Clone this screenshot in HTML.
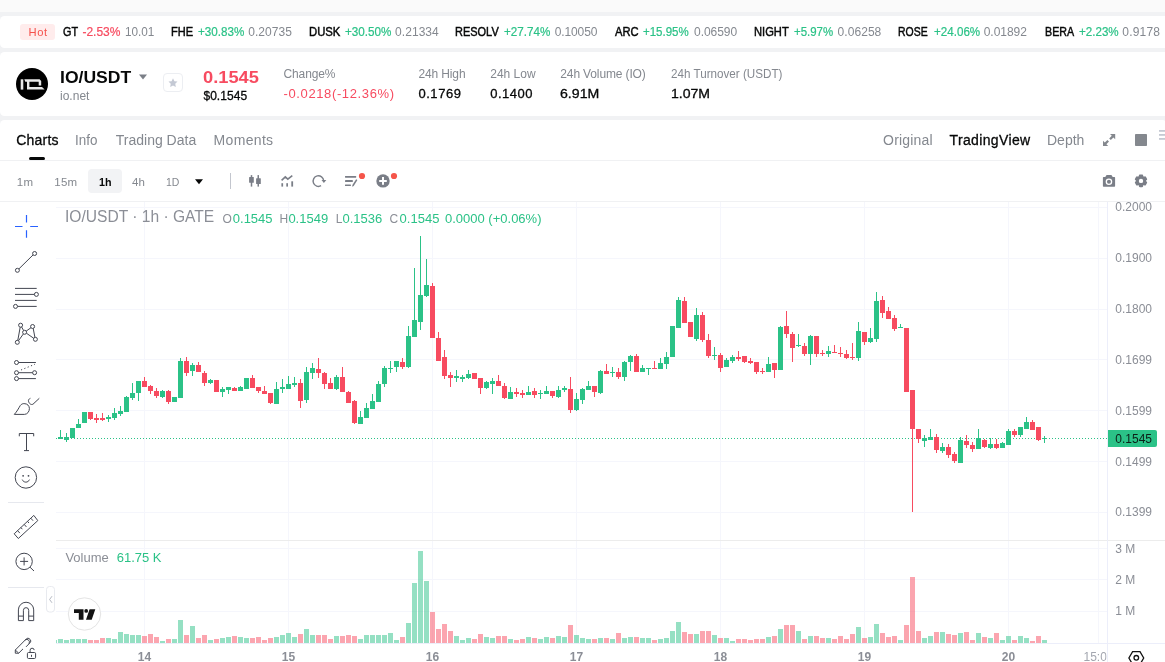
<!DOCTYPE html>
<html lang="en">
<head>
<meta charset="utf-8">
<title>IO/USDT</title>
<style>
*{box-sizing:border-box;margin:0;padding:0}
html,body{width:1165px;height:662px;overflow:hidden;background:#f1f2f4;font-family:"Liberation Sans",Arial,sans-serif}
#page{position:relative;width:1165px;height:662px;overflow:hidden}
.topstrip{position:absolute;left:0;top:0;width:1165px;height:12px;background:#fafafa}
.card{position:absolute;left:0;background:#fff;border-radius:4.500px 0 0 4.500px;width:1175px}
#ticker{top:16px;height:32px}
#header{top:52px;height:64px}
#chartcard{top:120px;height:560px;width:1167px;border-radius:4.500px 4.500px 0 0}
.t{position:absolute;white-space:nowrap;line-height:1;display:block}
.hot{position:absolute;left:20px;top:24px;width:35px;height:16px;border-radius:3px;background:#ffecec}
.hr{position:absolute;left:0;width:1165px;height:1px;background:#f0f1f3}
.ivl{position:absolute;left:88px;top:169px;width:34px;height:24px;border-radius:4px;background:#f2f3f5}
.uline{position:absolute;left:29px;top:157px;width:16px;height:3px;border-radius:1.5px;background:#070808}
.star{position:absolute;left:163px;top:72.500px;width:20px;height:19.500px;border:1px solid #eceef2;border-radius:4px;background:#fff}
.plabel{position:absolute;left:1108px;top:430px;width:49px;height:17px;background:#2bc287;border-radius:0 2px 2px 0}
.ov{position:absolute;left:0;top:0}
</style>
</head>
<body>
<div id="page">
<div class="topstrip"></div>
<div class="card" id="ticker"></div>
<div class="card" id="header"></div>
<div class="card" id="chartcard"></div>
<div class="hot"></div>
<div class="hr" style="top:160px"></div>
<div class="hr" style="top:201px"></div>
<div class="ivl"></div>
<div class="uline"></div>
<div class="star"></div>
<svg class="ov" width="1165" height="662" viewBox="0 0 1165 662" shape-rendering="crispEdges">
<rect x="56" y="207" width="1051" height="1" fill="#f5f6fc"/>
<rect x="56" y="258" width="1051" height="1" fill="#f5f6fc"/>
<rect x="56" y="309" width="1051" height="1" fill="#f5f6fc"/>
<rect x="56" y="359" width="1051" height="1" fill="#f5f6fc"/>
<rect x="56" y="410" width="1051" height="1" fill="#f5f6fc"/>
<rect x="56" y="461" width="1051" height="1" fill="#f5f6fc"/>
<rect x="56" y="512" width="1051" height="1" fill="#f5f6fc"/>
<rect x="56" y="548" width="1051" height="1" fill="#f5f6fc"/>
<rect x="56" y="579" width="1051" height="1" fill="#f5f6fc"/>
<rect x="56" y="611" width="1051" height="1" fill="#f5f6fc"/>
<rect x="144" y="202" width="1" height="441" fill="#f5f6fc"/>
<rect x="288" y="202" width="1" height="441" fill="#f5f6fc"/>
<rect x="432" y="202" width="1" height="441" fill="#f5f6fc"/>
<rect x="576" y="202" width="1" height="441" fill="#f5f6fc"/>
<rect x="720" y="202" width="1" height="441" fill="#f5f6fc"/>
<rect x="864" y="202" width="1" height="441" fill="#f5f6fc"/>
<rect x="1008" y="202" width="1" height="441" fill="#f5f6fc"/>
<rect x="1098" y="202" width="1" height="441" fill="#f5f6fc"/>
<rect x="56" y="540" width="1109" height="1" fill="#ececec"/>
<rect x="56" y="643" width="1109" height="1" fill="#eceefa"/>
<rect x="1107" y="202" width="1" height="460" fill="#eceefa"/>
<path d="M56 438.5H1107" stroke="#2bc287" stroke-width="1" stroke-dasharray="1 2"/>
<rect x="56" y="640" width="1" height="3" fill="#95e0c3"/>
<rect x="58" y="639" width="5" height="4" fill="#2bc287" fill-opacity="0.5"/>
<rect x="64" y="640" width="5" height="3" fill="#2bc287" fill-opacity="0.5"/>
<rect x="70" y="639" width="5" height="4" fill="#2bc287" fill-opacity="0.5"/>
<rect x="76" y="639" width="5" height="4" fill="#2bc287" fill-opacity="0.5"/>
<rect x="82" y="639" width="5" height="4" fill="#2bc287" fill-opacity="0.5"/>
<rect x="88" y="640" width="5" height="3" fill="#f74b60" fill-opacity="0.5"/>
<rect x="94" y="640" width="5" height="3" fill="#f74b60" fill-opacity="0.5"/>
<rect x="100" y="638" width="5" height="5" fill="#f74b60" fill-opacity="0.5"/>
<rect x="106" y="638" width="5" height="5" fill="#2bc287" fill-opacity="0.5"/>
<rect x="112" y="639" width="5" height="4" fill="#2bc287" fill-opacity="0.5"/>
<rect x="118" y="632" width="5" height="11" fill="#2bc287" fill-opacity="0.5"/>
<rect x="124" y="634" width="5" height="9" fill="#2bc287" fill-opacity="0.5"/>
<rect x="130" y="635" width="5" height="8" fill="#2bc287" fill-opacity="0.5"/>
<rect x="136" y="635" width="5" height="8" fill="#2bc287" fill-opacity="0.5"/>
<rect x="142" y="636" width="5" height="7" fill="#f74b60" fill-opacity="0.5"/>
<rect x="148" y="634" width="5" height="9" fill="#f74b60" fill-opacity="0.5"/>
<rect x="154" y="637" width="5" height="6" fill="#f74b60" fill-opacity="0.5"/>
<rect x="160" y="641" width="5" height="2" fill="#2bc287" fill-opacity="0.5"/>
<rect x="166" y="639" width="5" height="4" fill="#f74b60" fill-opacity="0.5"/>
<rect x="172" y="639" width="5" height="4" fill="#2bc287" fill-opacity="0.5"/>
<rect x="178" y="620" width="5" height="23" fill="#2bc287" fill-opacity="0.5"/>
<rect x="184" y="635" width="5" height="8" fill="#f74b60" fill-opacity="0.5"/>
<rect x="190" y="626" width="5" height="17" fill="#2bc287" fill-opacity="0.5"/>
<rect x="196" y="638" width="5" height="5" fill="#f74b60" fill-opacity="0.5"/>
<rect x="202" y="635" width="5" height="8" fill="#f74b60" fill-opacity="0.5"/>
<rect x="208" y="640" width="5" height="3" fill="#2bc287" fill-opacity="0.5"/>
<rect x="214" y="639" width="5" height="4" fill="#f74b60" fill-opacity="0.5"/>
<rect x="220" y="638" width="5" height="5" fill="#2bc287" fill-opacity="0.5"/>
<rect x="226" y="637" width="5" height="6" fill="#2bc287" fill-opacity="0.5"/>
<rect x="232" y="636" width="5" height="7" fill="#f74b60" fill-opacity="0.5"/>
<rect x="238" y="637" width="5" height="6" fill="#2bc287" fill-opacity="0.5"/>
<rect x="244" y="638" width="5" height="5" fill="#2bc287" fill-opacity="0.5"/>
<rect x="250" y="638" width="5" height="5" fill="#f74b60" fill-opacity="0.5"/>
<rect x="256" y="637" width="5" height="6" fill="#f74b60" fill-opacity="0.5"/>
<rect x="262" y="640" width="5" height="3" fill="#f74b60" fill-opacity="0.5"/>
<rect x="268" y="638" width="5" height="5" fill="#f74b60" fill-opacity="0.5"/>
<rect x="274" y="637" width="5" height="6" fill="#2bc287" fill-opacity="0.5"/>
<rect x="280" y="635" width="5" height="8" fill="#2bc287" fill-opacity="0.5"/>
<rect x="286" y="633" width="5" height="10" fill="#2bc287" fill-opacity="0.5"/>
<rect x="292" y="637" width="5" height="6" fill="#2bc287" fill-opacity="0.5"/>
<rect x="298" y="634" width="5" height="9" fill="#f74b60" fill-opacity="0.5"/>
<rect x="304" y="629" width="5" height="14" fill="#2bc287" fill-opacity="0.5"/>
<rect x="310" y="635" width="5" height="8" fill="#2bc287" fill-opacity="0.5"/>
<rect x="316" y="635" width="5" height="8" fill="#f74b60" fill-opacity="0.5"/>
<rect x="322" y="635" width="5" height="8" fill="#f74b60" fill-opacity="0.5"/>
<rect x="328" y="639" width="5" height="4" fill="#f74b60" fill-opacity="0.5"/>
<rect x="334" y="636" width="5" height="7" fill="#2bc287" fill-opacity="0.5"/>
<rect x="340" y="636" width="5" height="7" fill="#f74b60" fill-opacity="0.5"/>
<rect x="346" y="635" width="5" height="8" fill="#f74b60" fill-opacity="0.5"/>
<rect x="352" y="636" width="5" height="7" fill="#f74b60" fill-opacity="0.5"/>
<rect x="358" y="639" width="5" height="4" fill="#2bc287" fill-opacity="0.5"/>
<rect x="364" y="635" width="5" height="8" fill="#2bc287" fill-opacity="0.5"/>
<rect x="370" y="635" width="5" height="8" fill="#2bc287" fill-opacity="0.5"/>
<rect x="376" y="635" width="5" height="8" fill="#2bc287" fill-opacity="0.5"/>
<rect x="382" y="635" width="5" height="8" fill="#2bc287" fill-opacity="0.5"/>
<rect x="388" y="633" width="5" height="10" fill="#2bc287" fill-opacity="0.5"/>
<rect x="394" y="640" width="5" height="3" fill="#2bc287" fill-opacity="0.5"/>
<rect x="400" y="637" width="5" height="6" fill="#f74b60" fill-opacity="0.5"/>
<rect x="406" y="623" width="5" height="20" fill="#2bc287" fill-opacity="0.5"/>
<rect x="412" y="583" width="5" height="60" fill="#2bc287" fill-opacity="0.5"/>
<rect x="418" y="551" width="5" height="92" fill="#2bc287" fill-opacity="0.5"/>
<rect x="424" y="581" width="5" height="62" fill="#2bc287" fill-opacity="0.5"/>
<rect x="430" y="612" width="5" height="31" fill="#f74b60" fill-opacity="0.5"/>
<rect x="436" y="629" width="5" height="14" fill="#f74b60" fill-opacity="0.5"/>
<rect x="442" y="624" width="5" height="19" fill="#f74b60" fill-opacity="0.5"/>
<rect x="448" y="631" width="5" height="12" fill="#f74b60" fill-opacity="0.5"/>
<rect x="454" y="636" width="5" height="7" fill="#2bc287" fill-opacity="0.5"/>
<rect x="460" y="640" width="5" height="3" fill="#2bc287" fill-opacity="0.5"/>
<rect x="466" y="638" width="5" height="5" fill="#2bc287" fill-opacity="0.5"/>
<rect x="472" y="639" width="5" height="4" fill="#f74b60" fill-opacity="0.5"/>
<rect x="478" y="634" width="5" height="9" fill="#f74b60" fill-opacity="0.5"/>
<rect x="484" y="637" width="5" height="6" fill="#2bc287" fill-opacity="0.5"/>
<rect x="490" y="638" width="5" height="5" fill="#2bc287" fill-opacity="0.5"/>
<rect x="496" y="636" width="5" height="7" fill="#f74b60" fill-opacity="0.5"/>
<rect x="502" y="636" width="5" height="7" fill="#f74b60" fill-opacity="0.5"/>
<rect x="508" y="639" width="5" height="4" fill="#2bc287" fill-opacity="0.5"/>
<rect x="514" y="640" width="5" height="3" fill="#f74b60" fill-opacity="0.5"/>
<rect x="520" y="639" width="5" height="4" fill="#f74b60" fill-opacity="0.5"/>
<rect x="526" y="637" width="5" height="6" fill="#2bc287" fill-opacity="0.5"/>
<rect x="532" y="638" width="5" height="5" fill="#f74b60" fill-opacity="0.5"/>
<rect x="538" y="639" width="5" height="4" fill="#2bc287" fill-opacity="0.5"/>
<rect x="544" y="637" width="5" height="6" fill="#2bc287" fill-opacity="0.5"/>
<rect x="550" y="638" width="5" height="5" fill="#f74b60" fill-opacity="0.5"/>
<rect x="556" y="636" width="5" height="7" fill="#2bc287" fill-opacity="0.5"/>
<rect x="562" y="637" width="5" height="6" fill="#2bc287" fill-opacity="0.5"/>
<rect x="568" y="625" width="5" height="18" fill="#f74b60" fill-opacity="0.5"/>
<rect x="574" y="635" width="5" height="8" fill="#2bc287" fill-opacity="0.5"/>
<rect x="580" y="638" width="5" height="5" fill="#2bc287" fill-opacity="0.5"/>
<rect x="586" y="639" width="5" height="4" fill="#2bc287" fill-opacity="0.5"/>
<rect x="592" y="639" width="5" height="4" fill="#f74b60" fill-opacity="0.5"/>
<rect x="598" y="638" width="5" height="5" fill="#2bc287" fill-opacity="0.5"/>
<rect x="604" y="638" width="5" height="5" fill="#f74b60" fill-opacity="0.5"/>
<rect x="610" y="639" width="5" height="4" fill="#2bc287" fill-opacity="0.5"/>
<rect x="616" y="633" width="5" height="10" fill="#f74b60" fill-opacity="0.5"/>
<rect x="622" y="638" width="5" height="5" fill="#2bc287" fill-opacity="0.5"/>
<rect x="628" y="637" width="5" height="6" fill="#2bc287" fill-opacity="0.5"/>
<rect x="634" y="637" width="5" height="6" fill="#f74b60" fill-opacity="0.5"/>
<rect x="640" y="638" width="5" height="5" fill="#2bc287" fill-opacity="0.5"/>
<rect x="646" y="638" width="5" height="5" fill="#2bc287" fill-opacity="0.5"/>
<rect x="652" y="640" width="5" height="3" fill="#f74b60" fill-opacity="0.5"/>
<rect x="658" y="639" width="5" height="4" fill="#2bc287" fill-opacity="0.5"/>
<rect x="664" y="638" width="5" height="5" fill="#2bc287" fill-opacity="0.5"/>
<rect x="670" y="631" width="5" height="12" fill="#2bc287" fill-opacity="0.5"/>
<rect x="676" y="622" width="5" height="21" fill="#2bc287" fill-opacity="0.5"/>
<rect x="682" y="632" width="5" height="11" fill="#f74b60" fill-opacity="0.5"/>
<rect x="688" y="634" width="5" height="9" fill="#f74b60" fill-opacity="0.5"/>
<rect x="694" y="634" width="5" height="9" fill="#2bc287" fill-opacity="0.5"/>
<rect x="700" y="631" width="5" height="12" fill="#f74b60" fill-opacity="0.5"/>
<rect x="706" y="631" width="5" height="12" fill="#f74b60" fill-opacity="0.5"/>
<rect x="712" y="635" width="5" height="8" fill="#2bc287" fill-opacity="0.5"/>
<rect x="718" y="638" width="5" height="5" fill="#f74b60" fill-opacity="0.5"/>
<rect x="724" y="638" width="5" height="5" fill="#2bc287" fill-opacity="0.5"/>
<rect x="730" y="641" width="5" height="2" fill="#2bc287" fill-opacity="0.5"/>
<rect x="736" y="639" width="5" height="4" fill="#f74b60" fill-opacity="0.5"/>
<rect x="742" y="639" width="5" height="4" fill="#f74b60" fill-opacity="0.5"/>
<rect x="748" y="640" width="5" height="3" fill="#f74b60" fill-opacity="0.5"/>
<rect x="754" y="639" width="5" height="4" fill="#f74b60" fill-opacity="0.5"/>
<rect x="760" y="639" width="5" height="4" fill="#f74b60" fill-opacity="0.5"/>
<rect x="766" y="637" width="5" height="6" fill="#2bc287" fill-opacity="0.5"/>
<rect x="772" y="636" width="5" height="7" fill="#f74b60" fill-opacity="0.5"/>
<rect x="778" y="629" width="5" height="14" fill="#2bc287" fill-opacity="0.5"/>
<rect x="784" y="625" width="5" height="18" fill="#f74b60" fill-opacity="0.5"/>
<rect x="790" y="625" width="5" height="18" fill="#f74b60" fill-opacity="0.5"/>
<rect x="796" y="631" width="5" height="12" fill="#2bc287" fill-opacity="0.5"/>
<rect x="802" y="639" width="5" height="4" fill="#f74b60" fill-opacity="0.5"/>
<rect x="808" y="636" width="5" height="7" fill="#2bc287" fill-opacity="0.5"/>
<rect x="814" y="636" width="5" height="7" fill="#f74b60" fill-opacity="0.5"/>
<rect x="820" y="638" width="5" height="5" fill="#f74b60" fill-opacity="0.5"/>
<rect x="826" y="638" width="5" height="5" fill="#2bc287" fill-opacity="0.5"/>
<rect x="832" y="639" width="5" height="4" fill="#f74b60" fill-opacity="0.5"/>
<rect x="838" y="636" width="5" height="7" fill="#f74b60" fill-opacity="0.5"/>
<rect x="844" y="639" width="5" height="4" fill="#f74b60" fill-opacity="0.5"/>
<rect x="850" y="634" width="5" height="9" fill="#f74b60" fill-opacity="0.5"/>
<rect x="856" y="627" width="5" height="16" fill="#2bc287" fill-opacity="0.5"/>
<rect x="862" y="638" width="5" height="5" fill="#f74b60" fill-opacity="0.5"/>
<rect x="868" y="637" width="5" height="6" fill="#2bc287" fill-opacity="0.5"/>
<rect x="874" y="624" width="5" height="19" fill="#2bc287" fill-opacity="0.5"/>
<rect x="880" y="633" width="5" height="10" fill="#f74b60" fill-opacity="0.5"/>
<rect x="886" y="637" width="5" height="6" fill="#f74b60" fill-opacity="0.5"/>
<rect x="892" y="636" width="5" height="7" fill="#f74b60" fill-opacity="0.5"/>
<rect x="898" y="640" width="5" height="3" fill="#2bc287" fill-opacity="0.5"/>
<rect x="904" y="625" width="5" height="18" fill="#f74b60" fill-opacity="0.5"/>
<rect x="910" y="577" width="5" height="66" fill="#f74b60" fill-opacity="0.5"/>
<rect x="916" y="631" width="5" height="12" fill="#f74b60" fill-opacity="0.5"/>
<rect x="922" y="638" width="5" height="5" fill="#2bc287" fill-opacity="0.5"/>
<rect x="928" y="636" width="5" height="7" fill="#2bc287" fill-opacity="0.5"/>
<rect x="934" y="632" width="5" height="11" fill="#f74b60" fill-opacity="0.5"/>
<rect x="940" y="632" width="5" height="11" fill="#2bc287" fill-opacity="0.5"/>
<rect x="946" y="634" width="5" height="9" fill="#f74b60" fill-opacity="0.5"/>
<rect x="952" y="635" width="5" height="8" fill="#f74b60" fill-opacity="0.5"/>
<rect x="958" y="633" width="5" height="10" fill="#2bc287" fill-opacity="0.5"/>
<rect x="964" y="632" width="5" height="11" fill="#f74b60" fill-opacity="0.5"/>
<rect x="970" y="640" width="5" height="3" fill="#f74b60" fill-opacity="0.5"/>
<rect x="976" y="633" width="5" height="10" fill="#2bc287" fill-opacity="0.5"/>
<rect x="982" y="637" width="5" height="6" fill="#f74b60" fill-opacity="0.5"/>
<rect x="988" y="638" width="5" height="5" fill="#2bc287" fill-opacity="0.5"/>
<rect x="994" y="633" width="5" height="10" fill="#f74b60" fill-opacity="0.5"/>
<rect x="1000" y="640" width="5" height="3" fill="#2bc287" fill-opacity="0.5"/>
<rect x="1006" y="636" width="5" height="7" fill="#2bc287" fill-opacity="0.5"/>
<rect x="1012" y="640" width="5" height="3" fill="#f74b60" fill-opacity="0.5"/>
<rect x="1018" y="636" width="5" height="7" fill="#2bc287" fill-opacity="0.5"/>
<rect x="1024" y="638" width="5" height="5" fill="#2bc287" fill-opacity="0.5"/>
<rect x="1030" y="641" width="5" height="2" fill="#f74b60" fill-opacity="0.5"/>
<rect x="1036" y="636" width="5" height="7" fill="#f74b60" fill-opacity="0.5"/>
<rect x="1042" y="640" width="5" height="3" fill="#2bc287" fill-opacity="0.5"/>
<rect x="60" y="430" width="1" height="9" fill="#2bc287"/>
<rect x="58" y="437" width="5" height="2" fill="#2bc287"/>
<rect x="66" y="433" width="1" height="9" fill="#2bc287"/>
<rect x="64" y="437" width="5" height="3" fill="#2bc287"/>
<rect x="72" y="428" width="1" height="10" fill="#2bc287"/>
<rect x="70" y="428" width="5" height="10" fill="#2bc287"/>
<rect x="78" y="419" width="1" height="9" fill="#2bc287"/>
<rect x="76" y="424" width="5" height="4" fill="#2bc287"/>
<rect x="84" y="412" width="1" height="11" fill="#2bc287"/>
<rect x="82" y="412" width="5" height="11" fill="#2bc287"/>
<rect x="90" y="412" width="1" height="8" fill="#f74b60"/>
<rect x="88" y="412" width="5" height="7" fill="#f74b60"/>
<rect x="96" y="414" width="1" height="9" fill="#f74b60"/>
<rect x="94" y="418" width="5" height="2" fill="#f74b60"/>
<rect x="102" y="413" width="1" height="8" fill="#f74b60"/>
<rect x="100" y="418" width="5" height="2" fill="#f74b60"/>
<rect x="108" y="415" width="1" height="7" fill="#2bc287"/>
<rect x="106" y="417" width="5" height="2" fill="#2bc287"/>
<rect x="114" y="408" width="1" height="12" fill="#2bc287"/>
<rect x="112" y="413" width="5" height="5" fill="#2bc287"/>
<rect x="120" y="406" width="1" height="10" fill="#2bc287"/>
<rect x="118" y="411" width="5" height="3" fill="#2bc287"/>
<rect x="126" y="396" width="1" height="16" fill="#2bc287"/>
<rect x="124" y="397" width="5" height="15" fill="#2bc287"/>
<rect x="132" y="383" width="1" height="17" fill="#2bc287"/>
<rect x="130" y="393" width="5" height="5" fill="#2bc287"/>
<rect x="138" y="381" width="1" height="20" fill="#2bc287"/>
<rect x="136" y="381" width="5" height="12" fill="#2bc287"/>
<rect x="144" y="377" width="1" height="10" fill="#f74b60"/>
<rect x="142" y="381" width="5" height="6" fill="#f74b60"/>
<rect x="150" y="385" width="1" height="9" fill="#f74b60"/>
<rect x="148" y="386" width="5" height="5" fill="#f74b60"/>
<rect x="156" y="388" width="1" height="10" fill="#f74b60"/>
<rect x="154" y="391" width="5" height="5" fill="#f74b60"/>
<rect x="162" y="390" width="1" height="8" fill="#2bc287"/>
<rect x="160" y="391" width="5" height="6" fill="#2bc287"/>
<rect x="168" y="390" width="1" height="14" fill="#f74b60"/>
<rect x="166" y="391" width="5" height="11" fill="#f74b60"/>
<rect x="174" y="397" width="1" height="5" fill="#2bc287"/>
<rect x="172" y="397" width="5" height="5" fill="#2bc287"/>
<rect x="180" y="358" width="1" height="40" fill="#2bc287"/>
<rect x="178" y="361" width="5" height="37" fill="#2bc287"/>
<rect x="186" y="357" width="1" height="19" fill="#f74b60"/>
<rect x="184" y="361" width="5" height="12" fill="#f74b60"/>
<rect x="192" y="363" width="1" height="13" fill="#2bc287"/>
<rect x="190" y="365" width="5" height="6" fill="#2bc287"/>
<rect x="198" y="362" width="1" height="10" fill="#f74b60"/>
<rect x="196" y="365" width="5" height="7" fill="#f74b60"/>
<rect x="204" y="371" width="1" height="15" fill="#f74b60"/>
<rect x="202" y="373" width="5" height="10" fill="#f74b60"/>
<rect x="210" y="379" width="1" height="5" fill="#2bc287"/>
<rect x="208" y="380" width="5" height="3" fill="#2bc287"/>
<rect x="216" y="380" width="1" height="12" fill="#f74b60"/>
<rect x="214" y="380" width="5" height="12" fill="#f74b60"/>
<rect x="222" y="387" width="1" height="10" fill="#2bc287"/>
<rect x="220" y="389" width="5" height="3" fill="#2bc287"/>
<rect x="228" y="387" width="1" height="7" fill="#2bc287"/>
<rect x="226" y="387" width="5" height="3" fill="#2bc287"/>
<rect x="234" y="387" width="1" height="4" fill="#f74b60"/>
<rect x="232" y="388" width="5" height="3" fill="#f74b60"/>
<rect x="240" y="386" width="1" height="5" fill="#2bc287"/>
<rect x="238" y="387" width="5" height="4" fill="#2bc287"/>
<rect x="246" y="378" width="1" height="11" fill="#2bc287"/>
<rect x="244" y="378" width="5" height="11" fill="#2bc287"/>
<rect x="252" y="375" width="1" height="13" fill="#f74b60"/>
<rect x="250" y="378" width="5" height="10" fill="#f74b60"/>
<rect x="258" y="387" width="1" height="6" fill="#f74b60"/>
<rect x="256" y="387" width="5" height="4" fill="#f74b60"/>
<rect x="264" y="386" width="1" height="8" fill="#f74b60"/>
<rect x="262" y="391" width="5" height="3" fill="#f74b60"/>
<rect x="270" y="393" width="1" height="11" fill="#f74b60"/>
<rect x="268" y="393" width="5" height="10" fill="#f74b60"/>
<rect x="276" y="382" width="1" height="22" fill="#2bc287"/>
<rect x="274" y="389" width="5" height="15" fill="#2bc287"/>
<rect x="282" y="379" width="1" height="14" fill="#2bc287"/>
<rect x="280" y="387" width="5" height="2" fill="#2bc287"/>
<rect x="288" y="376" width="1" height="13" fill="#2bc287"/>
<rect x="286" y="384" width="5" height="5" fill="#2bc287"/>
<rect x="294" y="377" width="1" height="10" fill="#2bc287"/>
<rect x="292" y="383" width="5" height="2" fill="#2bc287"/>
<rect x="300" y="379" width="1" height="29" fill="#f74b60"/>
<rect x="298" y="383" width="5" height="18" fill="#f74b60"/>
<rect x="306" y="367" width="1" height="36" fill="#2bc287"/>
<rect x="304" y="372" width="5" height="28" fill="#2bc287"/>
<rect x="312" y="363" width="1" height="16" fill="#2bc287"/>
<rect x="310" y="368" width="5" height="5" fill="#2bc287"/>
<rect x="318" y="358" width="1" height="20" fill="#f74b60"/>
<rect x="316" y="369" width="5" height="4" fill="#f74b60"/>
<rect x="324" y="372" width="1" height="17" fill="#f74b60"/>
<rect x="322" y="373" width="5" height="11" fill="#f74b60"/>
<rect x="330" y="378" width="1" height="11" fill="#f74b60"/>
<rect x="328" y="383" width="5" height="6" fill="#f74b60"/>
<rect x="336" y="375" width="1" height="15" fill="#2bc287"/>
<rect x="334" y="377" width="5" height="12" fill="#2bc287"/>
<rect x="342" y="367" width="1" height="25" fill="#f74b60"/>
<rect x="340" y="377" width="5" height="15" fill="#f74b60"/>
<rect x="348" y="391" width="1" height="12" fill="#f74b60"/>
<rect x="346" y="392" width="5" height="11" fill="#f74b60"/>
<rect x="354" y="400" width="1" height="24" fill="#f74b60"/>
<rect x="352" y="401" width="5" height="22" fill="#f74b60"/>
<rect x="360" y="411" width="1" height="13" fill="#2bc287"/>
<rect x="358" y="417" width="5" height="7" fill="#2bc287"/>
<rect x="366" y="403" width="1" height="15" fill="#2bc287"/>
<rect x="364" y="408" width="5" height="10" fill="#2bc287"/>
<rect x="372" y="394" width="1" height="15" fill="#2bc287"/>
<rect x="370" y="401" width="5" height="8" fill="#2bc287"/>
<rect x="378" y="381" width="1" height="21" fill="#2bc287"/>
<rect x="376" y="384" width="5" height="18" fill="#2bc287"/>
<rect x="384" y="366" width="1" height="21" fill="#2bc287"/>
<rect x="382" y="368" width="5" height="16" fill="#2bc287"/>
<rect x="390" y="361" width="1" height="12" fill="#2bc287"/>
<rect x="388" y="368" width="5" height="1" fill="#2bc287"/>
<rect x="396" y="361" width="1" height="11" fill="#2bc287"/>
<rect x="394" y="361" width="5" height="6" fill="#2bc287"/>
<rect x="402" y="358" width="1" height="11" fill="#f74b60"/>
<rect x="400" y="362" width="5" height="5" fill="#f74b60"/>
<rect x="408" y="326" width="1" height="42" fill="#2bc287"/>
<rect x="406" y="336" width="5" height="31" fill="#2bc287"/>
<rect x="414" y="268" width="1" height="69" fill="#2bc287"/>
<rect x="412" y="320" width="5" height="17" fill="#2bc287"/>
<rect x="420" y="236" width="1" height="94" fill="#2bc287"/>
<rect x="418" y="295" width="5" height="27" fill="#2bc287"/>
<rect x="426" y="259" width="1" height="38" fill="#2bc287"/>
<rect x="424" y="285" width="5" height="11" fill="#2bc287"/>
<rect x="432" y="283" width="1" height="55" fill="#f74b60"/>
<rect x="430" y="286" width="5" height="52" fill="#f74b60"/>
<rect x="438" y="332" width="1" height="29" fill="#f74b60"/>
<rect x="436" y="338" width="5" height="23" fill="#f74b60"/>
<rect x="444" y="350" width="1" height="29" fill="#f74b60"/>
<rect x="442" y="357" width="5" height="19" fill="#f74b60"/>
<rect x="450" y="372" width="1" height="15" fill="#f74b60"/>
<rect x="448" y="375" width="5" height="3" fill="#f74b60"/>
<rect x="456" y="370" width="1" height="12" fill="#2bc287"/>
<rect x="454" y="376" width="5" height="2" fill="#2bc287"/>
<rect x="462" y="375" width="1" height="7" fill="#2bc287"/>
<rect x="460" y="377" width="5" height="2" fill="#2bc287"/>
<rect x="468" y="370" width="1" height="9" fill="#2bc287"/>
<rect x="466" y="374" width="5" height="4" fill="#2bc287"/>
<rect x="474" y="373" width="1" height="6" fill="#f74b60"/>
<rect x="472" y="373" width="5" height="6" fill="#f74b60"/>
<rect x="480" y="378" width="1" height="16" fill="#f74b60"/>
<rect x="478" y="378" width="5" height="10" fill="#f74b60"/>
<rect x="486" y="381" width="1" height="8" fill="#2bc287"/>
<rect x="484" y="382" width="5" height="6" fill="#2bc287"/>
<rect x="492" y="378" width="1" height="16" fill="#2bc287"/>
<rect x="490" y="381" width="5" height="3" fill="#2bc287"/>
<rect x="498" y="375" width="1" height="11" fill="#f74b60"/>
<rect x="496" y="381" width="5" height="5" fill="#f74b60"/>
<rect x="504" y="383" width="1" height="16" fill="#f74b60"/>
<rect x="502" y="386" width="5" height="12" fill="#f74b60"/>
<rect x="510" y="387" width="1" height="12" fill="#2bc287"/>
<rect x="508" y="392" width="5" height="7" fill="#2bc287"/>
<rect x="516" y="388" width="1" height="9" fill="#f74b60"/>
<rect x="514" y="392" width="5" height="2" fill="#f74b60"/>
<rect x="522" y="390" width="1" height="8" fill="#f74b60"/>
<rect x="520" y="393" width="5" height="2" fill="#f74b60"/>
<rect x="528" y="386" width="1" height="9" fill="#2bc287"/>
<rect x="526" y="392" width="5" height="3" fill="#2bc287"/>
<rect x="534" y="388" width="1" height="10" fill="#f74b60"/>
<rect x="532" y="391" width="5" height="4" fill="#f74b60"/>
<rect x="540" y="390" width="1" height="9" fill="#2bc287"/>
<rect x="538" y="393" width="5" height="1" fill="#2bc287"/>
<rect x="546" y="386" width="1" height="8" fill="#2bc287"/>
<rect x="544" y="391" width="5" height="3" fill="#2bc287"/>
<rect x="552" y="391" width="1" height="7" fill="#f74b60"/>
<rect x="550" y="391" width="5" height="5" fill="#f74b60"/>
<rect x="558" y="386" width="1" height="12" fill="#2bc287"/>
<rect x="556" y="390" width="5" height="7" fill="#2bc287"/>
<rect x="564" y="386" width="1" height="6" fill="#2bc287"/>
<rect x="562" y="388" width="5" height="2" fill="#2bc287"/>
<rect x="570" y="377" width="1" height="36" fill="#f74b60"/>
<rect x="568" y="389" width="5" height="21" fill="#f74b60"/>
<rect x="576" y="393" width="1" height="18" fill="#2bc287"/>
<rect x="574" y="399" width="5" height="11" fill="#2bc287"/>
<rect x="582" y="388" width="1" height="16" fill="#2bc287"/>
<rect x="580" y="389" width="5" height="11" fill="#2bc287"/>
<rect x="588" y="381" width="1" height="9" fill="#2bc287"/>
<rect x="586" y="386" width="5" height="4" fill="#2bc287"/>
<rect x="594" y="386" width="1" height="11" fill="#f74b60"/>
<rect x="592" y="386" width="5" height="6" fill="#f74b60"/>
<rect x="600" y="370" width="1" height="24" fill="#2bc287"/>
<rect x="598" y="371" width="5" height="22" fill="#2bc287"/>
<rect x="606" y="364" width="1" height="10" fill="#f74b60"/>
<rect x="604" y="371" width="5" height="3" fill="#f74b60"/>
<rect x="612" y="367" width="1" height="10" fill="#2bc287"/>
<rect x="610" y="372" width="5" height="1" fill="#2bc287"/>
<rect x="618" y="368" width="1" height="11" fill="#f74b60"/>
<rect x="616" y="372" width="5" height="5" fill="#f74b60"/>
<rect x="624" y="361" width="1" height="20" fill="#2bc287"/>
<rect x="622" y="362" width="5" height="15" fill="#2bc287"/>
<rect x="630" y="355" width="1" height="16" fill="#2bc287"/>
<rect x="628" y="356" width="5" height="6" fill="#2bc287"/>
<rect x="636" y="354" width="1" height="18" fill="#f74b60"/>
<rect x="634" y="356" width="5" height="16" fill="#f74b60"/>
<rect x="642" y="365" width="1" height="7" fill="#2bc287"/>
<rect x="640" y="368" width="5" height="4" fill="#2bc287"/>
<rect x="648" y="368" width="1" height="7" fill="#2bc287"/>
<rect x="646" y="368" width="5" height="1" fill="#2bc287"/>
<rect x="654" y="361" width="1" height="8" fill="#f74b60"/>
<rect x="652" y="368" width="5" height="1" fill="#f74b60"/>
<rect x="660" y="358" width="1" height="11" fill="#2bc287"/>
<rect x="658" y="363" width="5" height="6" fill="#2bc287"/>
<rect x="666" y="352" width="1" height="17" fill="#2bc287"/>
<rect x="664" y="357" width="5" height="7" fill="#2bc287"/>
<rect x="672" y="326" width="1" height="31" fill="#2bc287"/>
<rect x="670" y="326" width="5" height="31" fill="#2bc287"/>
<rect x="678" y="297" width="1" height="31" fill="#2bc287"/>
<rect x="676" y="300" width="5" height="28" fill="#2bc287"/>
<rect x="684" y="297" width="1" height="26" fill="#f74b60"/>
<rect x="682" y="301" width="5" height="22" fill="#f74b60"/>
<rect x="690" y="322" width="1" height="15" fill="#f74b60"/>
<rect x="688" y="322" width="5" height="15" fill="#f74b60"/>
<rect x="696" y="308" width="1" height="33" fill="#2bc287"/>
<rect x="694" y="315" width="5" height="24" fill="#2bc287"/>
<rect x="702" y="312" width="1" height="30" fill="#f74b60"/>
<rect x="700" y="315" width="5" height="25" fill="#f74b60"/>
<rect x="708" y="334" width="1" height="24" fill="#f74b60"/>
<rect x="706" y="340" width="5" height="16" fill="#f74b60"/>
<rect x="714" y="347" width="1" height="13" fill="#2bc287"/>
<rect x="712" y="355" width="5" height="1" fill="#2bc287"/>
<rect x="720" y="353" width="1" height="19" fill="#f74b60"/>
<rect x="718" y="355" width="5" height="13" fill="#f74b60"/>
<rect x="726" y="358" width="1" height="9" fill="#2bc287"/>
<rect x="724" y="360" width="5" height="7" fill="#2bc287"/>
<rect x="732" y="355" width="1" height="8" fill="#2bc287"/>
<rect x="730" y="357" width="5" height="4" fill="#2bc287"/>
<rect x="738" y="351" width="1" height="10" fill="#f74b60"/>
<rect x="736" y="357" width="5" height="2" fill="#f74b60"/>
<rect x="744" y="356" width="1" height="7" fill="#f74b60"/>
<rect x="742" y="356" width="5" height="6" fill="#f74b60"/>
<rect x="750" y="358" width="1" height="6" fill="#f74b60"/>
<rect x="748" y="361" width="5" height="2" fill="#f74b60"/>
<rect x="756" y="362" width="1" height="12" fill="#f74b60"/>
<rect x="754" y="362" width="5" height="10" fill="#f74b60"/>
<rect x="762" y="368" width="1" height="6" fill="#f74b60"/>
<rect x="760" y="371" width="5" height="1" fill="#f74b60"/>
<rect x="768" y="357" width="1" height="15" fill="#2bc287"/>
<rect x="766" y="364" width="5" height="8" fill="#2bc287"/>
<rect x="774" y="363" width="1" height="15" fill="#f74b60"/>
<rect x="772" y="363" width="5" height="7" fill="#f74b60"/>
<rect x="780" y="326" width="1" height="44" fill="#2bc287"/>
<rect x="778" y="327" width="5" height="43" fill="#2bc287"/>
<rect x="786" y="311" width="1" height="27" fill="#f74b60"/>
<rect x="784" y="326" width="5" height="8" fill="#f74b60"/>
<rect x="792" y="332" width="1" height="30" fill="#f74b60"/>
<rect x="790" y="334" width="5" height="14" fill="#f74b60"/>
<rect x="798" y="334" width="1" height="13" fill="#2bc287"/>
<rect x="796" y="345" width="5" height="1" fill="#2bc287"/>
<rect x="804" y="343" width="1" height="13" fill="#f74b60"/>
<rect x="802" y="346" width="5" height="8" fill="#f74b60"/>
<rect x="810" y="335" width="1" height="30" fill="#2bc287"/>
<rect x="808" y="336" width="5" height="18" fill="#2bc287"/>
<rect x="816" y="336" width="1" height="21" fill="#f74b60"/>
<rect x="814" y="336" width="5" height="18" fill="#f74b60"/>
<rect x="822" y="350" width="1" height="6" fill="#f74b60"/>
<rect x="820" y="353" width="5" height="1" fill="#f74b60"/>
<rect x="828" y="346" width="1" height="11" fill="#2bc287"/>
<rect x="826" y="351" width="5" height="3" fill="#2bc287"/>
<rect x="834" y="345" width="1" height="8" fill="#f74b60"/>
<rect x="832" y="352" width="5" height="1" fill="#f74b60"/>
<rect x="840" y="347" width="1" height="10" fill="#f74b60"/>
<rect x="838" y="353" width="5" height="1" fill="#f74b60"/>
<rect x="846" y="350" width="1" height="9" fill="#f74b60"/>
<rect x="844" y="354" width="5" height="4" fill="#f74b60"/>
<rect x="852" y="343" width="1" height="17" fill="#f74b60"/>
<rect x="850" y="357" width="5" height="1" fill="#f74b60"/>
<rect x="858" y="322" width="1" height="39" fill="#2bc287"/>
<rect x="856" y="331" width="5" height="27" fill="#2bc287"/>
<rect x="864" y="332" width="1" height="13" fill="#f74b60"/>
<rect x="862" y="332" width="5" height="10" fill="#f74b60"/>
<rect x="870" y="328" width="1" height="15" fill="#2bc287"/>
<rect x="868" y="338" width="5" height="4" fill="#2bc287"/>
<rect x="876" y="292" width="1" height="50" fill="#2bc287"/>
<rect x="874" y="301" width="5" height="38" fill="#2bc287"/>
<rect x="882" y="296" width="1" height="22" fill="#f74b60"/>
<rect x="880" y="300" width="5" height="13" fill="#f74b60"/>
<rect x="888" y="307" width="1" height="12" fill="#f74b60"/>
<rect x="886" y="311" width="5" height="8" fill="#f74b60"/>
<rect x="894" y="315" width="1" height="16" fill="#f74b60"/>
<rect x="892" y="318" width="5" height="11" fill="#f74b60"/>
<rect x="900" y="324" width="1" height="4" fill="#2bc287"/>
<rect x="898" y="327" width="5" height="1" fill="#2bc287"/>
<rect x="906" y="328" width="1" height="64" fill="#f74b60"/>
<rect x="904" y="328" width="5" height="64" fill="#f74b60"/>
<rect x="912" y="390" width="1" height="122" fill="#f74b60"/>
<rect x="910" y="390" width="5" height="39" fill="#f74b60"/>
<rect x="918" y="429" width="1" height="14" fill="#f74b60"/>
<rect x="916" y="429" width="5" height="10" fill="#f74b60"/>
<rect x="924" y="435" width="1" height="12" fill="#2bc287"/>
<rect x="922" y="438" width="5" height="3" fill="#2bc287"/>
<rect x="930" y="429" width="1" height="11" fill="#2bc287"/>
<rect x="928" y="437" width="5" height="3" fill="#2bc287"/>
<rect x="936" y="434" width="1" height="19" fill="#f74b60"/>
<rect x="934" y="437" width="5" height="13" fill="#f74b60"/>
<rect x="942" y="443" width="1" height="10" fill="#2bc287"/>
<rect x="940" y="447" width="5" height="4" fill="#2bc287"/>
<rect x="948" y="444" width="1" height="14" fill="#f74b60"/>
<rect x="946" y="447" width="5" height="8" fill="#f74b60"/>
<rect x="954" y="452" width="1" height="11" fill="#f74b60"/>
<rect x="952" y="454" width="5" height="7" fill="#f74b60"/>
<rect x="960" y="437" width="1" height="26" fill="#2bc287"/>
<rect x="958" y="440" width="5" height="23" fill="#2bc287"/>
<rect x="966" y="435" width="1" height="13" fill="#f74b60"/>
<rect x="964" y="441" width="5" height="4" fill="#f74b60"/>
<rect x="972" y="442" width="1" height="10" fill="#f74b60"/>
<rect x="970" y="445" width="5" height="4" fill="#f74b60"/>
<rect x="978" y="429" width="1" height="20" fill="#2bc287"/>
<rect x="976" y="438" width="5" height="11" fill="#2bc287"/>
<rect x="984" y="439" width="1" height="9" fill="#f74b60"/>
<rect x="982" y="440" width="5" height="7" fill="#f74b60"/>
<rect x="990" y="438" width="1" height="11" fill="#2bc287"/>
<rect x="988" y="444" width="5" height="4" fill="#2bc287"/>
<rect x="996" y="439" width="1" height="10" fill="#f74b60"/>
<rect x="994" y="444" width="5" height="4" fill="#f74b60"/>
<rect x="1002" y="442" width="1" height="6" fill="#2bc287"/>
<rect x="1000" y="443" width="5" height="5" fill="#2bc287"/>
<rect x="1008" y="429" width="1" height="16" fill="#2bc287"/>
<rect x="1006" y="431" width="5" height="14" fill="#2bc287"/>
<rect x="1014" y="429" width="1" height="8" fill="#f74b60"/>
<rect x="1012" y="431" width="5" height="4" fill="#f74b60"/>
<rect x="1020" y="427" width="1" height="10" fill="#2bc287"/>
<rect x="1018" y="427" width="5" height="8" fill="#2bc287"/>
<rect x="1026" y="417" width="1" height="12" fill="#2bc287"/>
<rect x="1024" y="422" width="5" height="7" fill="#2bc287"/>
<rect x="1032" y="420" width="1" height="10" fill="#f74b60"/>
<rect x="1030" y="422" width="5" height="8" fill="#f74b60"/>
<rect x="1038" y="427" width="1" height="14" fill="#f74b60"/>
<rect x="1036" y="427" width="5" height="13" fill="#f74b60"/>
<rect x="1044" y="436" width="1" height="7" fill="#2bc287"/>
<rect x="1042" y="438" width="5" height="1" fill="#2bc287"/>
</svg>
<div class="plabel"></div>
<svg class="ov" width="1165" height="662" viewBox="0 0 1165 662">
<!-- coin logo -->
<circle cx="32" cy="84" r="16" fill="#000"/>
<g fill="#e9e9e9">
<path d="M20.700 79.300h2.600v10.300h-2.600z"/>
<path d="M24.300 79.300H39.600L41.200 80.900V85.600H38.700V81.700H29.400V87.100H42L44.600 89.600H27V81.700H25.300z"/>
</g>
<!-- dropdown caret -->
<path d="M139 74.5h8l-4 5z" fill="#7b7f87"/>
<!-- star -->
<path d="M173 78.300l1.400 2.850 3.100.450-2.250 2.200.550 3.100-2.800-1.500-2.800 1.500.550-3.100-2.250-2.200 3.100-.450z" fill="#c4c9d4"/>
<!-- right tab icons -->
<g fill="#84888e">
<path d="M1110 134h5.2v5.2l-1.8-1.8-2.6 2.6-1.6-1.6 2.6-2.6zM1108.2 146H1103v-5.2l1.8 1.8 2.6-2.6 1.6 1.6-2.6 2.6z"/>
<rect x="1135" y="134" width="12" height="12" rx="0.8"/>
</g>
<g fill="#c5c9d3"><rect x="1159" y="130" width="8" height="1.8"/><rect x="1159" y="134" width="8" height="1.8"/><rect x="1159" y="138" width="8" height="1.8"/></g>
<!-- interval caret + separator -->
<path d="M195 179.3h8l-4 5z" fill="#070808"/>
<rect x="230" y="173" width="1" height="16" fill="#c3c6ce"/>
<!-- toolbar icons -->
<g fill="#7a7e87">
<rect x="249.100" y="176.900" width="4.700" height="5.900" rx="0.500"/><rect x="250.750" y="175.100" width="1.500" height="11.500"/>
<rect x="256.100" y="178.300" width="4.700" height="5.700" rx="0.500"/><rect x="257.500" y="175.100" width="1.500" height="11.500"/>
<rect x="281.400" y="183.200" width="1.700" height="3.400"/><rect x="286.300" y="183.200" width="1.700" height="3.400"/><rect x="291.300" y="181.300" width="1.800" height="5.300"/>
</g>
<path d="M281.600 180.400l3.700-3.500 2.500 2.300 4.500-3.500" fill="none" stroke="#7a7e87" stroke-width="1.600"/>
<path d="M321.050 185.700A5.300 5.300 0 1 1 323.700 180.700" fill="none" stroke="#7a7e87" stroke-width="1.400"/>
<path d="M321.500 180h4.800l-2.400 3.100z" fill="#7a7e87"/>
<g fill="#7a7e87"><rect x="345" y="175.900" width="11.200" height="1.800" rx="0.400"/><rect x="345" y="180.100" width="7.900" height="1.800" rx="0.400"/><rect x="345" y="184.400" width="5.900" height="1.700" rx="0.400"/>
<path d="M356.100 179.200l1.300.8-3.700 6-1.500.7.200-1.600z"/></g>
<circle cx="362" cy="176" r="3.100" fill="#f5554a"/>
<circle cx="383" cy="180.900" r="6.700" fill="#7a7e87"/>
<path d="M379.200 180.900h7.600M383 177.100v7.600" stroke="#fff" stroke-width="2"/>
<circle cx="394" cy="176" r="3.100" fill="#f5554a"/>
<!-- camera + gear -->
<path d="M1106.700 175.100h4.600a.6.6 0 0 1 .5.300l.9 1.700h1.700a.7.700 0 0 1 .7.700v8.200a.7.700 0 0 1-.7.700h-10.800a.7.700 0 0 1-.7-.7v-8.200a.7.700 0 0 1 .7-.7h1.700l.9-1.700a.6.600 0 0 1 .5-.3z" fill="#7a7e87"/>
<circle cx="1108.950" cy="181.700" r="2.650" fill="none" stroke="#fff" stroke-width="1.300"/>
<g transform="translate(1141 180.900)" fill="#7a7e87"><circle r="5.100"/><rect x="-2.200" y="-6.300" width="4.400" height="4" rx="1.100" transform="rotate(0)"/><rect x="-2.200" y="-6.300" width="4.400" height="4" rx="1.100" transform="rotate(60)"/><rect x="-2.200" y="-6.300" width="4.400" height="4" rx="1.100" transform="rotate(120)"/><rect x="-2.200" y="-6.300" width="4.400" height="4" rx="1.100" transform="rotate(180)"/><rect x="-2.200" y="-6.300" width="4.400" height="4" rx="1.100" transform="rotate(240)"/><rect x="-2.200" y="-6.300" width="4.400" height="4" rx="1.100" transform="rotate(300)"/><circle r="2.200" fill="#fff"/></g>
<!-- left drawing toolbar -->
<g stroke="#2962ff" stroke-width="1.200" fill="none"><path d="M26.500 215v7.500M26.500 230.200v7.500M15 226.500h7.500M30.200 226.500h7.800"/></g>
<g stroke="#434651" stroke-width="1" fill="none">
<circle cx="17.400" cy="270.300" r="2"/><circle cx="34.600" cy="253.500" r="2"/><path d="M18.900 268.900L33.100 254.900"/>
<path d="M15 288.400h21.700M15 294.400h19.400M15 300.400h21.700M17.600 306.400h19.100"/><circle cx="36.400" cy="294.400" r="2"/><circle cx="15.500" cy="306.400" r="2"/>
<circle cx="20.600" cy="325.200" r="2"/><circle cx="32.600" cy="326.500" r="2"/><circle cx="24.600" cy="332.300" r="2"/><circle cx="17.300" cy="342.300" r="2"/><circle cx="35.400" cy="339.300" r="2"/>
<path d="M17.800 340.300L20.200 327.200M21.600 327l2 3.500M23.400 333.900l-4.900 6.800M26.200 331.100l4.800-3.400M33.200 328.400l1.700 8.900M26.400 333.200l7.200 5"/>
<circle cx="16.500" cy="362.500" r="2"/><path d="M18.500 362.500h17.400M18.500 372.700h14.100M18.500 378.600h17.400"/><circle cx="16.500" cy="372.700" r="2"/><circle cx="34.600" cy="372.700" r="2"/><circle cx="16.500" cy="378.600" r="2"/>
<path d="M21 370l14-5.800" stroke-dasharray="1.200 2.400"/>
<path d="M14.300 414.400C17 411.500 18.500 408.500 20.300 405.500 21.500 403.900 23 403.600 24.100 403.600 27.500 403.600 29.400 406 29.400 408.500 29.400 411.500 27.500 414.200 24.500 414.400z"/>
<path d="M30.400 398.300C28.800 399 28.200 400 28.500 401.200 29 403.500 31 405.200 33 404.200L39.300 398.300"/>
<path d="M19.300 436.300v-2.800h14.400v2.800M26.500 433.500v17.100M24 450.600h5"/>
<circle cx="25.900" cy="477.500" r="10.700"/><path d="M22.200 479.600c1.500 3.400 5.800 3.400 7.300 0"/>
<path d="M14.200 533.800L33.800 515.400 37.800 520.600 18.300 538.500zM17.600 530.600l2.200 2.500M20.900 527.500l1.400 1.700M24.200 524.400l2.200 2.500M27.500 521.300l1.400 1.700M30.800 518.200l2.200 2.500"/>
<circle cx="24.100" cy="561.400" r="8.200"/><path d="M20.100 561.400h8M24.100 557.400v8M30 567.200l4 3.800"/>
<path d="M18.400 620.600V609.900a7.650 7.650 0 0 1 15.300 0V620.600h-5V610.300a2.650 2.650 0 0 0-5.300 0V620.600zM18.400 616.100h5M28.700 616.100h5"/>
<path d="M15.300 653.200V650L26.200 639a2.450 2.450 0 0 1 3.500 0l.3.300a2.450 2.450 0 0 1 0 3.500L26 646.900M15.300 653.200H18.700L23 648.900M15.300 650L18.700 653.200M25.200 640a2.600 2.600 0 0 1 3.700 3.600"/>
<rect x="27.400" y="652.500" width="8.200" height="6" rx="1.200"/><path d="M30.100 652.500v-2.100a2.050 2.050 0 0 1 4.100-.3"/>
</g>
<g fill="#434651"><rect x="31" y="654.800" width="1" height="2"/><circle cx="23.100" cy="475.800" r="0.900"/><circle cx="28.500" cy="475.800" r="0.900"/></g>
<rect x="8" y="502" width="36" height="1" fill="#e6e8ee"/>
<rect x="8" y="587" width="36" height="1" fill="#e6e8ee"/>
<!-- collapse handle -->
<rect x="46.500" y="586.500" width="8" height="25.500" rx="3" fill="#fff" stroke="#e8eaef" stroke-width="1"/>
<path d="M52 596.200l-2.400 3.300 2.400 3.300" fill="none" stroke="#b5b9c2" stroke-width="1"/>
<!-- TV logo -->
<circle cx="84.500" cy="614" r="16.200" fill="#fff" stroke="#e4e4e4" stroke-width="1"/>
<path d="M74 609.200h9.500v10.500h-4.700v-6.700H74zM89.600 609.200h5.700l-3.600 10.500h-5.700z" fill="#131313"/><circle cx="86.200" cy="610.900" r="1.900" fill="#131313"/>
<!-- bottom right hexagon -->
<path d="M1132.600 651.600h7.400l3.700 6.400-3.700 6.400h-7.400l-3.700-6.400z" fill="none" stroke="#131313" stroke-width="1.300"/>
<circle cx="1136.300" cy="657.800" r="2.300" fill="none" stroke="#131313" stroke-width="1.300"/>
</svg>
<span class="t" style="left:28.6px;top:26.92px;font-size:11.2px;color:#f5514c;letter-spacing:0.539px;">Hot</span>
<span class="t" style="left:63.3px;top:25.84px;font-size:12px;color:#070808;-webkit-text-stroke:0.45px currentColor;transform-origin:0 50%;transform:scaleX(0.8997);">GT</span>
<span class="t" style="left:82.4px;top:25.84px;font-size:12px;color:#f74b60;-webkit-text-stroke:0.2px currentColor;letter-spacing:0.014px;">-2.53%</span>
<span class="t" style="left:125.1px;top:25.84px;font-size:12px;color:#84888f;transform-origin:0 50%;transform:scaleX(0.9790);">10.01</span>
<span class="t" style="left:171.0px;top:25.84px;font-size:12px;color:#070808;-webkit-text-stroke:0.45px currentColor;transform-origin:0 50%;transform:scaleX(0.9208);">FHE</span>
<span class="t" style="left:197.8px;top:25.84px;font-size:12px;color:#2bc287;-webkit-text-stroke:0.2px currentColor;transform-origin:0 50%;transform:scaleX(0.9703);">+30.83%</span>
<span class="t" style="left:248.2px;top:25.84px;font-size:12px;color:#84888f;letter-spacing:0.068px;">0.20735</span>
<span class="t" style="left:308.5px;top:25.84px;font-size:12px;color:#070808;-webkit-text-stroke:0.45px currentColor;transform-origin:0 50%;transform:scaleX(0.9417);">DUSK</span>
<span class="t" style="left:344.5px;top:25.84px;font-size:12px;color:#2bc287;-webkit-text-stroke:0.2px currentColor;transform-origin:0 50%;transform:scaleX(0.9724);">+30.50%</span>
<span class="t" style="left:395.0px;top:25.84px;font-size:12px;color:#84888f;letter-spacing:0.068px;">0.21334</span>
<span class="t" style="left:455.3px;top:25.84px;font-size:12px;color:#070808;-webkit-text-stroke:0.45px currentColor;transform-origin:0 50%;transform:scaleX(0.9143);">RESOLV</span>
<span class="t" style="left:503.7px;top:25.84px;font-size:12px;color:#2bc287;-webkit-text-stroke:0.2px currentColor;transform-origin:0 50%;transform:scaleX(0.9703);">+27.74%</span>
<span class="t" style="left:554.7px;top:25.84px;font-size:12px;color:#84888f;letter-spacing:-0.115px;">0.10050</span>
<span class="t" style="left:614.6px;top:25.84px;font-size:12px;color:#070808;-webkit-text-stroke:0.45px currentColor;transform-origin:0 50%;transform:scaleX(0.9312);">ARC</span>
<span class="t" style="left:643.3px;top:25.84px;font-size:12px;color:#2bc287;-webkit-text-stroke:0.2px currentColor;transform-origin:0 50%;transform:scaleX(0.9577);">+15.95%</span>
<span class="t" style="left:694.0px;top:25.84px;font-size:12px;color:#84888f;letter-spacing:-0.032px;">0.06590</span>
<span class="t" style="left:754.2px;top:25.84px;font-size:12px;color:#070808;-webkit-text-stroke:0.45px currentColor;transform-origin:0 50%;transform:scaleX(0.9292);">NIGHT</span>
<span class="t" style="left:794.4px;top:25.84px;font-size:12px;color:#2bc287;-webkit-text-stroke:0.2px currentColor;transform-origin:0 50%;transform:scaleX(0.9550);">+5.97%</span>
<span class="t" style="left:837.6px;top:25.84px;font-size:12px;color:#84888f;letter-spacing:0.052px;">0.06258</span>
<span class="t" style="left:898.4px;top:25.84px;font-size:12px;color:#070808;-webkit-text-stroke:0.45px currentColor;transform-origin:0 50%;transform:scaleX(0.8702);">ROSE</span>
<span class="t" style="left:933.5px;top:25.84px;font-size:12px;color:#2bc287;-webkit-text-stroke:0.2px currentColor;transform-origin:0 50%;transform:scaleX(0.9682);">+24.06%</span>
<span class="t" style="left:983.7px;top:25.84px;font-size:12px;color:#84888f;letter-spacing:-0.032px;">0.01892</span>
<span class="t" style="left:1044.5px;top:25.84px;font-size:12px;color:#070808;-webkit-text-stroke:0.45px currentColor;transform-origin:0 50%;transform:scaleX(0.8902);">BERA</span>
<span class="t" style="left:1078.6px;top:25.84px;font-size:12px;color:#2bc287;-webkit-text-stroke:0.2px currentColor;transform-origin:0 50%;transform:scaleX(0.9672);">+2.23%</span>
<span class="t" style="left:1122.3px;top:25.84px;font-size:12px;color:#84888f;letter-spacing:0.199px;">0.9178</span>
<span class="t" style="left:59.6px;top:69.00px;font-size:16.3px;color:#070808;font-weight:700;transform-origin:0 50%;transform:scaleX(1.0780);">IO/USDT</span>
<span class="t" style="left:60.0px;top:90.04px;font-size:12px;color:#84888f;letter-spacing:0.008px;">io.net</span>
<span class="t" style="left:203.4px;top:70.16px;font-size:16px;color:#f74b60;font-weight:700;transform-origin:0 50%;transform:scaleX(1.1423);">0.1545</span>
<span class="t" style="left:203.4px;top:90.34px;font-size:12px;color:#070808;-webkit-text-stroke:0.3px currentColor;letter-spacing:0.068px;">$0.1545</span>
<span class="t" style="left:283.5px;top:68.04px;font-size:12px;color:#84888f;letter-spacing:-0.120px;">Change%</span>
<span class="t" style="left:283.5px;top:87.00px;font-size:13px;color:#f74b60;letter-spacing:0.622px;">-0.0218(-12.36%)</span>
<span class="t" style="left:418.4px;top:68.04px;font-size:12px;color:#84888f;letter-spacing:-0.121px;">24h High</span>
<span class="t" style="left:418.4px;top:87.30px;font-size:13px;color:#070808;-webkit-text-stroke:0.3px currentColor;letter-spacing:0.567px;">0.1769</span>
<span class="t" style="left:490.3px;top:68.04px;font-size:12px;color:#84888f;letter-spacing:-0.012px;">24h Low</span>
<span class="t" style="left:490.3px;top:87.30px;font-size:13px;color:#070808;-webkit-text-stroke:0.3px currentColor;letter-spacing:0.487px;">0.1400</span>
<span class="t" style="left:560.3px;top:68.04px;font-size:12px;color:#84888f;letter-spacing:-0.134px;">24h Volume (IO)</span>
<span class="t" style="left:560.3px;top:87.30px;font-size:13px;color:#070808;-webkit-text-stroke:0.3px currentColor;transform-origin:0 50%;transform:scaleX(1.0874);">6.91M</span>
<span class="t" style="left:670.9px;top:68.04px;font-size:12px;color:#84888f;transform-origin:0 50%;transform:scaleX(0.9721);">24h Turnover (USDT)</span>
<span class="t" style="left:670.9px;top:87.30px;font-size:13px;color:#070808;-webkit-text-stroke:0.3px currentColor;transform-origin:0 50%;transform:scaleX(1.0819);">1.07M</span>
<span class="t" style="left:16.2px;top:133.35px;font-size:14px;color:#070808;-webkit-text-stroke:0.3px currentColor;letter-spacing:0.213px;">Charts</span>
<span class="t" style="left:75.4px;top:133.35px;font-size:14px;color:#84888f;transform-origin:0 50%;transform:scaleX(0.9589);">Info</span>
<span class="t" style="left:115.8px;top:133.35px;font-size:14px;color:#84888f;letter-spacing:-0.002px;">Trading Data</span>
<span class="t" style="left:213.6px;top:133.35px;font-size:14px;color:#84888f;letter-spacing:0.320px;">Moments</span>
<span class="t" style="left:883.1px;top:133.35px;font-size:14px;color:#84888f;letter-spacing:0.193px;">Original</span>
<span class="t" style="left:949.5px;top:133.35px;font-size:14px;color:#070808;-webkit-text-stroke:0.3px currentColor;letter-spacing:0.365px;">TradingView</span>
<span class="t" style="left:1047.0px;top:133.35px;font-size:14px;color:#84888f;letter-spacing:0.010px;">Depth</span>
<span class="t" style="left:16.7px;top:176.97px;font-size:11.5px;color:#84888f;letter-spacing:0.416px;">1m</span>
<span class="t" style="left:54.3px;top:176.97px;font-size:11.5px;color:#84888f;letter-spacing:0.263px;">15m</span>
<span class="t" style="left:98.8px;top:176.97px;font-size:11.5px;color:#070808;font-weight:700;transform-origin:0 50%;transform:scaleX(0.9313);">1h</span>
<span class="t" style="left:131.9px;top:176.97px;font-size:11.5px;color:#84888f;letter-spacing:0.203px;">4h</span>
<span class="t" style="left:166.3px;top:176.97px;font-size:11.5px;color:#84888f;transform-origin:0 50%;transform:scaleX(0.9114);">1D</span>
<span class="t" style="left:65.0px;top:208.66px;font-size:16px;color:#8b8e96;transform-origin:0 50%;transform:scaleX(0.9738);">IO/USDT · 1h · GATE</span>
<span class="t" style="left:222.5px;top:213.14px;color:#8b8e96;font-size:12px;">O</span>
<span class="t" style="left:232.8px;top:212.00px;font-size:13px;color:#2bc287;">0.1545</span>
<span class="t" style="left:279.6px;top:213.14px;color:#8b8e96;font-size:12px;">H</span>
<span class="t" style="left:288.4px;top:212.00px;font-size:13px;color:#2bc287;">0.1549</span>
<span class="t" style="left:335.8px;top:213.14px;color:#8b8e96;font-size:12px;">L</span>
<span class="t" style="left:342.5px;top:212.00px;font-size:13px;color:#2bc287;">0.1536</span>
<span class="t" style="left:389.4px;top:213.14px;color:#8b8e96;font-size:12px;">C</span>
<span class="t" style="left:399.6px;top:212.00px;font-size:13px;color:#2bc287;">0.1545</span>
<span class="t" style="left:445.0px;top:212.00px;font-size:13px;color:#2bc287;">0.0000 (+0.06%)</span>
<span class="t" style="left:65.4px;top:551.00px;font-size:13px;color:#8b8e96;">Volume</span>
<span class="t" style="left:116.7px;top:551.00px;font-size:13px;color:#2bc287;">61.75 K</span>
<span class="t" style="left:1115.3px;top:201.34px;font-size:12px;color:#8b8e96;">0.2000</span>
<span class="t" style="left:1115.3px;top:252.34px;font-size:12px;color:#8b8e96;">0.1900</span>
<span class="t" style="left:1115.3px;top:303.34px;font-size:12px;color:#8b8e96;">0.1800</span>
<span class="t" style="left:1115.3px;top:353.84px;font-size:12px;color:#8b8e96;">0.1699</span>
<span class="t" style="left:1115.3px;top:404.84px;font-size:12px;color:#8b8e96;">0.1599</span>
<span class="t" style="left:1115.3px;top:456.04px;font-size:12px;color:#8b8e96;">0.1499</span>
<span class="t" style="left:1115.3px;top:506.34px;font-size:12px;color:#8b8e96;">0.1399</span>
<span class="t" style="left:1115.3px;top:543.34px;font-size:12px;color:#8b8e96;">3 M</span>
<span class="t" style="left:1115.3px;top:574.34px;font-size:12px;color:#8b8e96;">2 M</span>
<span class="t" style="left:1115.3px;top:605.34px;font-size:12px;color:#8b8e96;">1 M</span>
<span class="t" style="left:1115.3px;top:432.84px;font-size:12px;color:#0c1f17;">0.1545</span>
<span class="t" style="left:144.5px;top:650.84px;font-size:12px;color:#8b8e96;font-weight:700;transform:translateX(-50%);">14</span>
<span class="t" style="left:288.5px;top:650.84px;font-size:12px;color:#8b8e96;font-weight:700;transform:translateX(-50%);">15</span>
<span class="t" style="left:432.5px;top:650.84px;font-size:12px;color:#8b8e96;font-weight:700;transform:translateX(-50%);">16</span>
<span class="t" style="left:576.5px;top:650.84px;font-size:12px;color:#8b8e96;font-weight:700;transform:translateX(-50%);">17</span>
<span class="t" style="left:720.5px;top:650.84px;font-size:12px;color:#8b8e96;font-weight:700;transform:translateX(-50%);">18</span>
<span class="t" style="left:864.5px;top:650.84px;font-size:12px;color:#8b8e96;font-weight:700;transform:translateX(-50%);">19</span>
<span class="t" style="left:1008.5px;top:650.84px;font-size:12px;color:#8b8e96;font-weight:700;transform:translateX(-50%);">20</span>
<span class="t" style="left:1098.5px;top:650.84px;font-size:12px;color:#a3a6af;transform:translateX(-50%);clip-path:inset(0 7px 0 0);">15:00</span>
</div>
</body>
</html>
